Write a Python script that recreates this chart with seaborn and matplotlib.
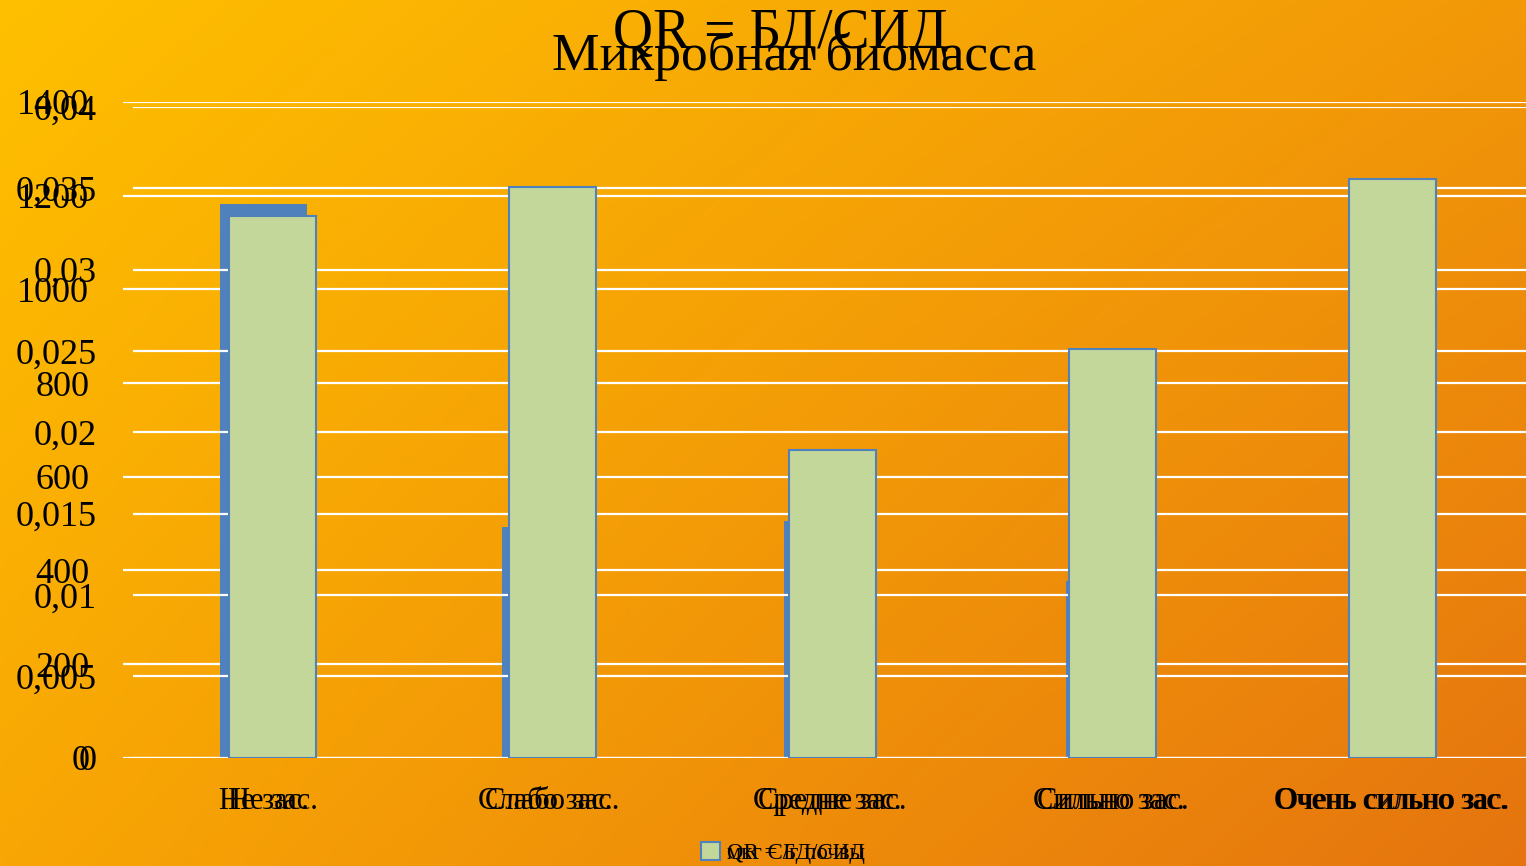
import numpy as np
import pandas as pd
import matplotlib
matplotlib.use("Agg")
import matplotlib.pyplot as plt
import seaborn as sns

# Data
categories = ["Не зас.", "Слабо зас.", "Средне зас.", "Сильно зас.", "Очень сильно зас."]
biomass = [1182, 493, 505, 377, np.nan]          # микробная биомасса
qr_values = [0.0333, 0.0351, 0.0189, 0.0251, 0.0356]  # QR = БД/СИД

biomass_ticks = [0, 200, 400, 600, 800, 1000, 1200, 1400]
qr_ticks = [0, 0.005, 0.01, 0.015, 0.02, 0.025, 0.03, 0.035, 0.04]
qr_tick_labels = ["0", "0,005", "0,01", "0,015", "0,02", "0,025", "0,03", "0,035", "0,04"]

title_biomass = "Микробная биомасса"
title_qr = "QR = БД/СИД"
legend_biomass = "мкг С/г почвы"
legend_qr = "QR = БД/СИД"

sns.set_theme(style="white")
plt.rcParams["font.family"] = ["Liberation Serif", "DejaVu Serif"]
plt.rcParams["text.color"] = "black"
plt.rcParams["xtick.color"] = "black"
plt.rcParams["ytick.color"] = "black"

W, H = 1526, 866
fig = plt.figure(figsize=(W / 100, H / 100), dpi=100)

# Orange gradient background
bg = fig.add_axes([0, 0, 1, 1], zorder=0)
ny, nx = 200, 300
yy, xx = np.mgrid[0:1:ny * 1j, 0:1:nx * 1j]
tl = np.array([255, 192, 0]) / 255
tr = np.array([242, 152, 8]) / 255
bl = np.array([248, 166, 4]) / 255
br = np.array([229, 116, 15]) / 255
img = ((1 - xx)[..., None] * (1 - yy)[..., None] * tl + xx[..., None] * (1 - yy)[..., None] * tr
       + (1 - xx)[..., None] * yy[..., None] * bl + xx[..., None] * yy[..., None] * br)
bg.imshow(img, aspect="auto", extent=[0, 1, 1, 0])
bg.set_axis_off()

df_a = pd.DataFrame({"cat": categories, "val": biomass})
df_b = pd.DataFrame({"cat": categories, "val": qr_values})


def px_axes(left, right, y0, ytop):
    return [left / W, (H - y0) / H, (right - left) / W, (y0 - ytop) / H]


def style_axes(ax):
    ax.patch.set_alpha(0)
    for s in ax.spines.values():
        s.set_visible(False)
    ax.set_axisbelow(True)
    ax.yaxis.grid(True, color="white", linewidth=1.6)
    ax.xaxis.grid(False)
    ax.tick_params(length=0)
    ax.set_xlabel("")
    ax.set_ylabel("")
    ax.set_xlim(-0.5, 4.5)


# Chart: microbial biomass
ax_a = fig.add_axes(px_axes(122.5, 1532, 757.7, 102), zorder=1)
sns.barplot(data=df_a, x="cat", y="val", color="#4F81BD", saturation=1,
            width=0.309, edgecolor="#4F81BD", linewidth=0, ax=ax_a, label=legend_biomass)
style_axes(ax_a)
ax_a.set_ylim(0, 1400)
ax_a.set_yticks(biomass_ticks)
ax_a.set_yticklabels([str(t) for t in biomass_ticks], fontsize=26)
ax_a.tick_params(axis="y", pad=24)
ax_a.tick_params(axis="x", pad=21, labelsize=22)

# Chart: QR ratio
ax_b = fig.add_axes(px_axes(132.5, 1532.5, 757.7, 107), zorder=2)
sns.barplot(data=df_b, x="cat", y="val", color="#C4D79B", saturation=1,
            width=0.311, edgecolor="#4F81BD", linewidth=1.5, ax=ax_b, label=legend_qr)
style_axes(ax_b)
ax_b.set_ylim(0, 0.04)
ax_b.set_yticks(qr_ticks)
ax_b.set_yticklabels(qr_tick_labels, fontsize=26)
ax_b.tick_params(axis="y", pad=26)
ax_b.tick_params(axis="x", pad=21, labelsize=22)

# Titles
fig.text(794 / W, (H - 70) / H, title_biomass, ha="center", va="baseline", fontsize=38.5, zorder=5)
fig.text(780 / W, (H - 48) / H, title_qr, ha="center", va="baseline", fontsize=40, zorder=5)

# Legends
for ax in (ax_a, ax_b):
    ax.legend(loc="center", bbox_to_anchor=(783 / W, (H - 853) / H), bbox_transform=fig.transFigure,
              frameon=False, fontsize=16.5, handlelength=0.8, handleheight=0.8, handletextpad=0.3,
              borderpad=0, borderaxespad=0)

fig.savefig("out.png", dpi=100)
